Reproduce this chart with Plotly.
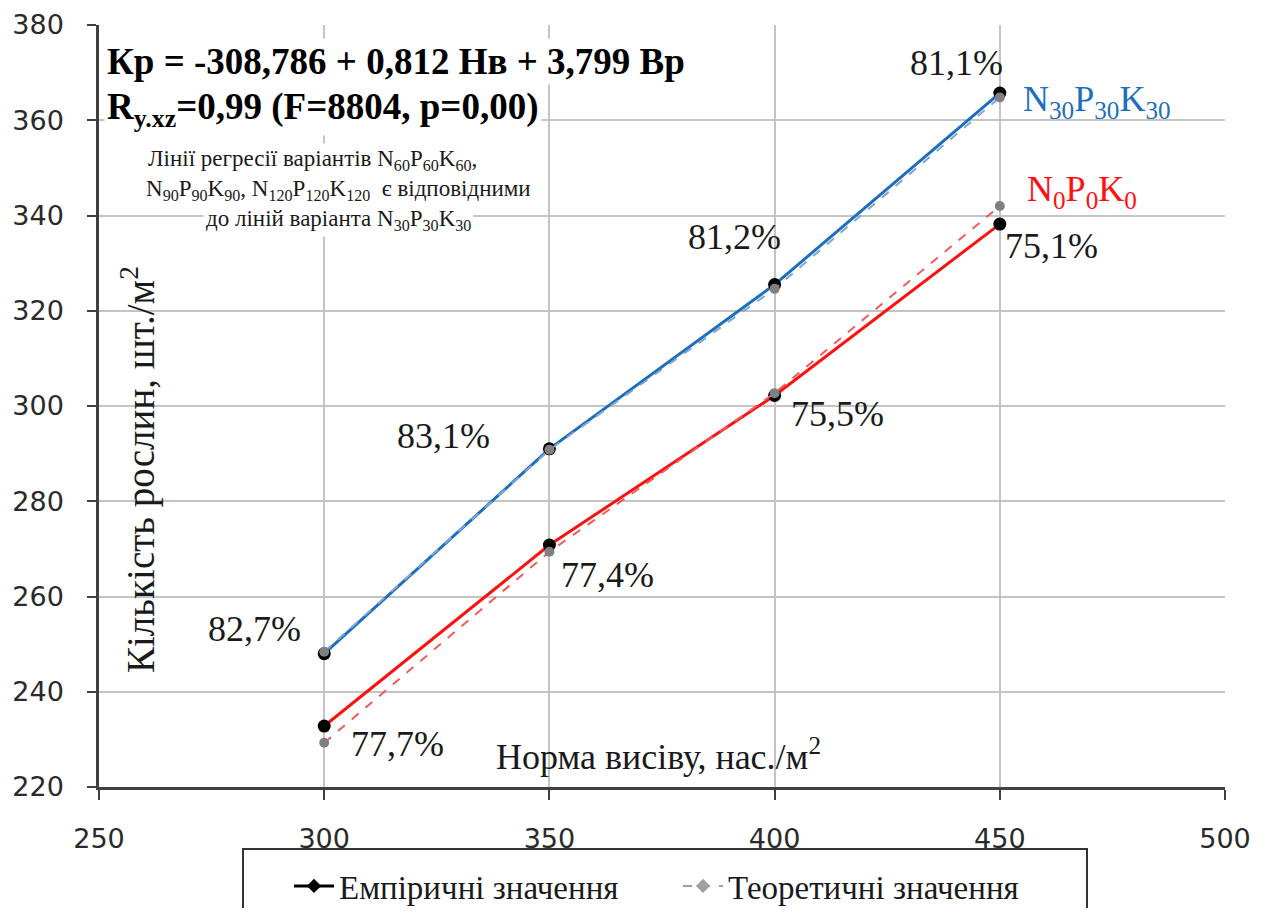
import plotly.graph_objects as go

# ---- data ----
norma = [300, 350, 400, 450]
n30_emp = [248, 291, 325.5, 365.7]
n30_theor = [248.4, 290.8, 324.6, 364.8]
n0_emp = [232.8, 270.8, 302.2, 338.2]
n0_theor = [229.3, 269.4, 302.7, 342.0]

pct_labels = ["82,7%", "83,1%", "81,2%", "81,1%", "77,7%", "77,4%", "75,5%", "75,1%"]
pct_x = [284.6, 326.4, 391.2, 440.3, 316.2, 362.8, 413.9, 461.4]
pct_y = [253.1, 293.8, 335.4, 372.1, 229.0, 264.6, 298.4, 333.7]

x_ticks = [250, 300, 350, 400, 450, 500]
y_ticks = [220, 240, 260, 280, 300, 320, 340, 360, 380]

SERIF = "Liberation Serif"
BLUE = "#1F6EBE"
BLUE_D = "#7FA6D4"
RED = "#FF1010"
RED_D = "#F25A5A"

# page has an 8px body margin: screen = figure + 8
OFF = 8
PLOT_L, PLOT_R, PLOT_T, PLOT_B = 99, 1225, 25, 787   # screen px of plot area
W, H = 1265 - OFF, 916 - OFF - 8
L = PLOT_L - OFF
T = PLOT_T - OFF
R = W - (PLOT_R - OFF)
B = H - (PLOT_B - OFF)
PW = PLOT_R - PLOT_L
PH = PLOT_B - PLOT_T


def px(xs):
    return (xs - PLOT_L) / PW


def py(ys):
    return (PLOT_B - ys) / PH


fig = go.Figure()

fig.add_trace(go.Scatter(x=norma, y=n30_emp, mode="lines+markers",
                         line=dict(color=BLUE, width=3),
                         marker=dict(color="black", size=13, line=dict(width=0)),
                         showlegend=False))
fig.add_trace(go.Scatter(x=norma, y=n30_theor, mode="lines+markers",
                         line=dict(color=BLUE_D, width=2, dash="dash"),
                         marker=dict(color="#808080", size=10),
                         showlegend=False))
fig.add_trace(go.Scatter(x=norma, y=n0_emp, mode="lines+markers",
                         line=dict(color=RED, width=3),
                         marker=dict(color="black", size=13, line=dict(width=0)),
                         showlegend=False))
fig.add_trace(go.Scatter(x=norma, y=n0_theor, mode="lines+markers",
                         line=dict(color=RED_D, width=2, dash="dash"),
                         marker=dict(color="#808080", size=10),
                         showlegend=False))

# legend-only traces
fig.add_trace(go.Scatter(x=[None], y=[None], mode="lines+markers",
                         name="Емпіричні значення",
                         line=dict(color="black", width=3),
                         marker=dict(color="black", symbol="diamond", size=11)))
fig.add_trace(go.Scatter(x=[None], y=[None], mode="lines+markers",
                         name="Теоретичні значення",
                         line=dict(color="#A0A0A0", width=2, dash="dash"),
                         marker=dict(color="#A0A0A0", symbol="diamond", size=11)))

annotations = []
for t, xx, yy in zip(pct_labels, pct_x, pct_y):
    annotations.append(dict(x=xx, y=yy, xref="x", yref="y", text=t, showarrow=False,
                            font=dict(family=SERIF, size=36, color="#1a1a1a"),
                            xanchor="center", yanchor="middle"))

annotations += [
    dict(x=454.7, y=364.0, xref="x", yref="y",
         text="N<sub>30</sub>P<sub>30</sub>K<sub>30</sub>", showarrow=False,
         font=dict(family=SERIF, size=36, color=BLUE), xanchor="left", yanchor="middle"),
    dict(x=455.6, y=345.0, xref="x", yref="y",
         text="N<sub>0</sub>P<sub>0</sub>K<sub>0</sub>", showarrow=False,
         font=dict(family=SERIF, size=36, color=RED), xanchor="left", yanchor="middle"),
    dict(x=374.3, y=226.8, xref="x", yref="y",
         text="Норма висіву, нас./м<sup>2</sup>", showarrow=False,
         font=dict(family=SERIF, size=36, color="#1a1a1a"), xanchor="center", yanchor="middle"),
    dict(x=px(138), y=py(470), xref="paper", yref="paper",
         text="Кількість рослин, шт./м<sup>2</sup>", showarrow=False, textangle=-90,
         font=dict(family=SERIF, size=39, color="#1a1a1a"), xanchor="center", yanchor="middle"),
    dict(x=px(104), y=py(62), xref="paper", yref="paper",
         text="<b>Кр = -308,786 + 0,812 Нв + 3,799 Вр</b>", showarrow=False,
         font=dict(family=SERIF, size=37, color="black"), xanchor="left", yanchor="middle",
         bgcolor="white", borderpad=2),
    dict(x=px(104), y=py(109), xref="paper", yref="paper",
         text="<b>R<sub>y.xz</sub>=0,99 (F=8804, p=0,00)</b>", showarrow=False,
         font=dict(family=SERIF, size=37, color="black"), xanchor="left", yanchor="middle",
         bgcolor="white", borderpad=2),
    dict(x=px(312), y=py(160), xref="paper", yref="paper",
         text="Лінії регресії варіантів N<sub>60</sub>P<sub>60</sub>K<sub>60</sub>,",
         showarrow=False, font=dict(family=SERIF, size=23, color="#1a1a1a"),
         xanchor="center", yanchor="middle", bgcolor="white", borderpad=2),
    dict(x=px(338), y=py(190), xref="paper", yref="paper",
         text="N<sub>90</sub>P<sub>90</sub>K<sub>90</sub>, N<sub>120</sub>P<sub>120</sub>K<sub>120</sub>  є відповідними",
         showarrow=False, font=dict(family=SERIF, size=23, color="#1a1a1a"),
         xanchor="center", yanchor="middle", bgcolor="white", borderpad=2),
    dict(x=px(338), y=py(220), xref="paper", yref="paper",
         text="до ліній варіанта N<sub>30</sub>P<sub>30</sub>K<sub>30</sub>",
         showarrow=False, font=dict(family=SERIF, size=23, color="#1a1a1a"),
         xanchor="center", yanchor="middle", bgcolor="white", borderpad=2),
]

shapes = [
    dict(type="rect", xref="paper", yref="paper",
         x0=px(243), x1=px(1087), y0=py(849), y1=py(940),
         line=dict(color="#333333", width=2), fillcolor="rgba(0,0,0,0)"),
]

fig.update_layout(
    width=W, height=H,
    margin=dict(l=L, r=R, t=T, b=B, autoexpand=False),
    paper_bgcolor="white", plot_bgcolor="white",
    annotations=annotations,
    shapes=shapes,
    legend=dict(orientation="h", x=px(289), xanchor="left",
                y=py(858), yanchor="top",
                borderwidth=0, bgcolor="rgba(0,0,0,0)",
                font=dict(family=SERIF, size=33, color="#1a1a1a"),
                entrywidth=334, entrywidthmode="pixels", itemwidth=40),
    xaxis=dict(range=[250, 500], tickvals=x_ticks, ticktext=[str(v) for v in x_ticks],
               showgrid=True, gridcolor="#C4C4C4", gridwidth=1.5,
               showline=True, linecolor="#404040", linewidth=2.5,
               ticks="outside", ticklen=10, tickwidth=2, tickcolor="#404040",
               ticklabelstandoff=16,
               tickfont=dict(family="DejaVu Sans", size=27, color="#2a2a2a"),
               zeroline=False, automargin=False),
    yaxis=dict(range=[220, 380], tickvals=y_ticks, ticktext=[str(v) for v in y_ticks],
               showgrid=True, gridcolor="#C4C4C4", gridwidth=1.5,
               showline=True, linecolor="#404040", linewidth=2.5,
               ticks="outside", ticklen=9, tickwidth=2, tickcolor="#404040",
               ticklabelstandoff=18,
               tickfont=dict(family="DejaVu Sans", size=27, color="#2a2a2a"),
               zeroline=False, automargin=False),
)

fig.write_html("out.html")
